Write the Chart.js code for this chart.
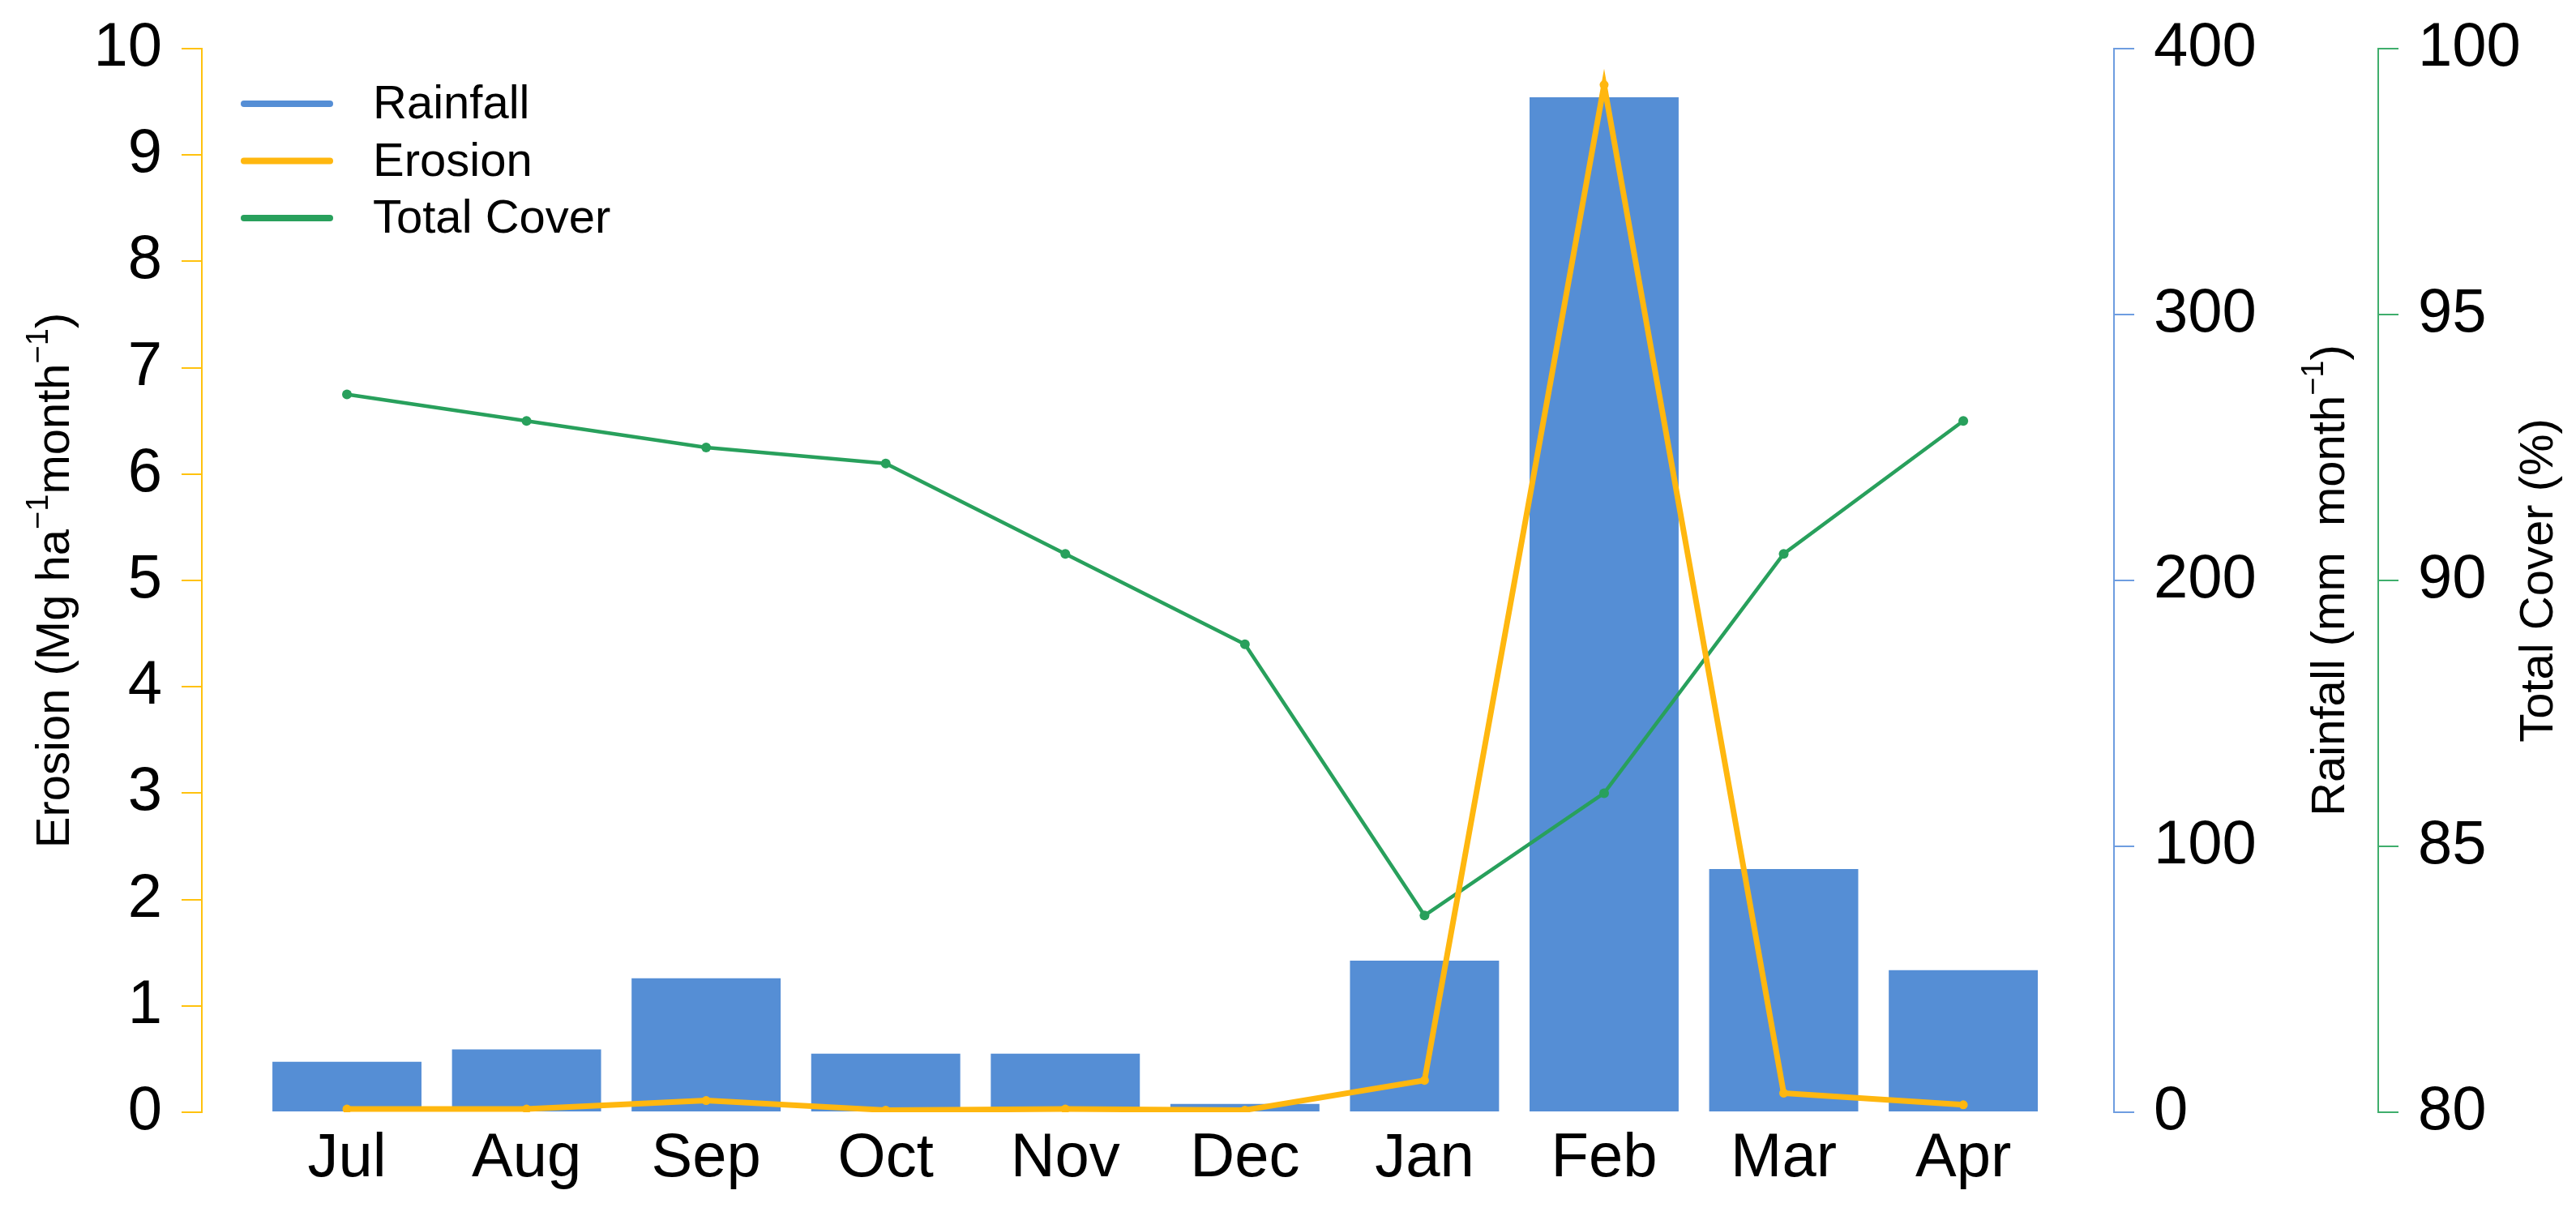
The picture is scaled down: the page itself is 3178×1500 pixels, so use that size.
<!DOCTYPE html>
<html>
<head>
<meta charset="utf-8">
<script src="https://cdn.jsdelivr.net/npm/chart.js@4.4.1/dist/chart.umd.min.js"></script>
<style>
  html, body { margin: 0; padding: 0; background: #fff; }
</style>
</head>
<body>
<canvas id="erosion-graph" width="3178" height="1500"></canvas>
<script>
// values
var months = ["Jul", "Aug", "Sep", "Oct", "Nov", "Dec", "Jan", "Feb", "Mar", "Apr"];
var rainfall = [19, 23.6, 50.4, 22, 22, 3.1, 57, 381.7, 91.5, 53.4];
var erosion = [0.03, 0.03, 0.11, 0.02, 0.03, 0.02, 0.30, 9.66, 0.18, 0.07];
var totalCover = [93.5, 93.0, 92.5, 92.2, 90.5, 88.8, 83.7, 86.0, 90.5, 93.0];

var erosionTicks = [0, 1, 2, 3, 4, 5, 6, 7, 8, 9, 10];
var rainfallTicks = [0, 100, 200, 300, 400];
var coverTicks = [80, 85, 90, 95, 100];

var blue = "#558ed5";
var orange = "#ffb70f";
var green = "#28a05c";
var FONT = "'Liberation Sans', Arial, sans-serif";

function pts(arr) {
  return arr.map(function (v, i) { return { x: i, y: v }; });
}

function setTicks(list) {
  return function (s) { s.ticks = list.map(function (v) { return { value: v }; }); };
}

function yAxis(pos, color, list, width, weight) {
  return {
    type: "linear",
    position: pos,
    weight: weight,
    min: list[0],
    max: list[list.length - 1],
    afterBuildTicks: setTicks(list),
    afterFit: function (s) { s.width = width; s.paddingTop = 0; s.paddingBottom = 0; },
    border: { display: true, color: color, width: 2 },
    grid: { drawOnChartArea: false, drawTicks: true, tickLength: 25, color: color, lineWidth: 2 },
    ticks: { color: "#000", padding: 24, font: { family: FONT, size: 76 } },
    title: { display: false }
  };
}

// axis titles with superscripts, rotated to read bottom-to-top
function drawTitle(ctx, parts, x, y) {
  ctx.save();
  ctx.translate(x, y);
  ctx.rotate(-Math.PI / 2);
  ctx.textAlign = "left";
  ctx.textBaseline = "alphabetic";
  ctx.fillStyle = "#000";
  var total = 0;
  parts.forEach(function (p) {
    ctx.font = (p.sup ? 38 : 58) + "px " + FONT;
    p.w = ctx.measureText(p.t).width;
    total += p.w;
  });
  var u = -total / 2;
  parts.forEach(function (p) {
    ctx.font = (p.sup ? 38 : 58) + "px " + FONT;
    ctx.fillText(p.t, u, p.sup ? -26 : 0);
    u += p.w;
  });
  ctx.restore();
}

var extras = {
  id: "extras",
  afterDraw: function (chart) {
    var ctx = chart.ctx;
    var area = chart.chartArea;
    var midY = (area.top + area.bottom) / 2;
    var sc = chart.scales;

    drawTitle(ctx, [{ t: "Erosion (Mg ha" }, { t: "\u22121", sup: true }, { t: "month" }, { t: "\u22121", sup: true }, { t: ")" }],
      sc.y.left + 85, midY);
    drawTitle(ctx, [{ t: "Rainfall (mm  month" }, { t: "\u22121", sup: true }, { t: ")" }],
      sc.yRain.left + 284, midY);
    drawTitle(ctx, [{ t: "Total Cover (%)" }], sc.yCover.left + 215, midY);

    // legend, top left inside the plot
    var ds = chart.data.datasets;
    ctx.save();
    ctx.lineCap = "round";
    ctx.textBaseline = "middle";
    ctx.textAlign = "left";
    ctx.font = "58px " + FONT;
    for (var i = 0; i < ds.length; i++) {
      var ly = area.top + 68 + i * 70.5;
      ctx.strokeStyle = ds[i].legendColor;
      ctx.lineWidth = 8;
      ctx.beginPath();
      ctx.moveTo(area.left + 52, ly);
      ctx.lineTo(area.left + 158, ly);
      ctx.stroke();
      ctx.fillStyle = "#000";
      ctx.fillText(ds[i].label, area.left + 211, ly + 2);
    }
    ctx.restore();
  }
};

var chart = document.getElementById("erosion-graph").getContext("2d");
var combo = new Chart(chart, {
  data: {
    datasets: [
      {
        type: "bar",
        label: "Rainfall",
        data: pts(rainfall),
        yAxisID: "yRain",
        backgroundColor: blue,
        legendColor: blue,
        barPercentage: 0.83,
        categoryPercentage: 1.0,
        order: 3
      },
      {
        type: "line",
        label: "Erosion",
        data: pts(erosion),
        yAxisID: "y",
        borderColor: orange,
        backgroundColor: orange,
        legendColor: orange,
        borderWidth: 7,
        pointRadius: 5.5,
        pointBorderWidth: 0,
        tension: 0,
        order: 1
      },
      {
        type: "line",
        label: "Total Cover",
        data: pts(totalCover),
        yAxisID: "yCover",
        borderColor: green,
        backgroundColor: green,
        legendColor: green,
        borderWidth: 4.5,
        pointRadius: 6,
        pointBorderWidth: 0,
        tension: 0,
        order: 2
      }
    ]
  },
  options: {
    responsive: false,
    animation: false,
    devicePixelRatio: 1,
    layout: { padding: { top: 60, left: 0, right: 0, bottom: 0 } },
    plugins: { legend: { display: false }, tooltip: { enabled: false } },
    scales: {
      x: {
        type: "linear",
        offset: false,
        min: -0.808,
        max: 9.839,
        afterBuildTicks: function (s) { s.ticks = months.map(function (m, i) { return { value: i }; }); },
        afterFit: function (s) { s.height = 128; s.paddingLeft = 0; s.paddingRight = 0; },
        border: { display: false },
        grid: { display: false, drawTicks: false, offset: false },
        ticks: {
          autoSkip: false,
          maxRotation: 0,
          padding: 12,
          color: "#000",
          font: { family: FONT, size: 76 },
          callback: function (v) { return months[v]; }
        }
      },
      y: yAxis("left", "#ffc20e", erosionTicks, 249, 0),
      yRain: yAxis("right", "#6e9de0", rainfallTicks, 326, 0),
      yCover: yAxis("right", "#3fae6c", coverTicks, 244, 1)
    }
  },
  plugins: [extras]
});
</script>
</body>
</html>
